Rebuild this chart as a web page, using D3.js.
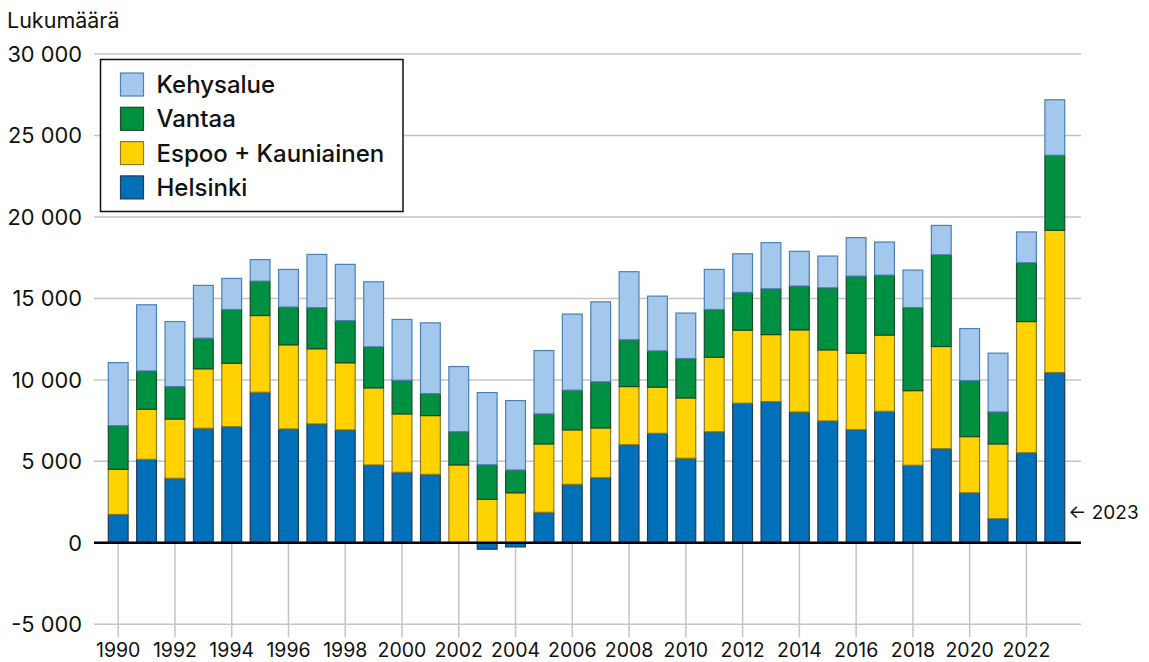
<!DOCTYPE html>
<html>
<head>
<meta charset="utf-8">
<script src="https://cdn.jsdelivr.net/npm/d3@7"></script>
<style>
  body { margin: 0; background: #fff; }
  text { font-family: Inter, Roboto, "Noto Sans", sans-serif; fill: #111; }
</style>
</head>
<body>
<svg id="chart" width="1149" height="662"></svg>
<script>
const YEARS = [1990, 1991, 1992, 1993, 1994, 1995, 1996, 1997, 1998, 1999,
               2000, 2001, 2002, 2003, 2004, 2005, 2006, 2007, 2008, 2009,
               2010, 2011, 2012, 2013, 2014, 2015, 2016, 2017, 2018, 2019,
               2020, 2021, 2022, 2023];
const HELSINKI = [1740, 5120, 3960, 7030, 7130, 9240, 6990, 7300, 6930, 4780,
                  4330, 4200, 0, -390, -250, 1870, 3590, 4000, 6020, 6720,
                  5190, 6820, 8570, 8670, 8030, 7480, 6950, 8070, 4760, 5780,
                  3070, 1480, 5530, 10450];
const ESPOO = [2770, 3080, 3640, 3650, 3890, 4710, 5160, 4610, 4120, 4730,
               3580, 3610, 4780, 2670, 3070, 4200, 3340, 3050, 3570, 2830,
               3700, 4570, 4480, 4110, 5040, 4360, 4690, 4680, 4580, 6270,
               3450, 4590, 8050, 8730];
const VANTAA = [2680, 2350, 1990, 1880, 3300, 2110, 2320, 2520, 2590, 2520,
                2070, 1350, 2040, 2120, 1400, 1840, 2440, 2830, 2870, 2230,
                2420, 2930, 2320, 2810, 2690, 3810, 4730, 3680, 5100, 5630,
                3440, 1960, 3610, 4610];
const KEHYS = [3870, 4060, 3990, 3240, 1910, 1320, 2310, 3270, 3450, 3990,
               3730, 4340, 4000, 4430, 4260, 3890, 4670, 4910, 4180, 3360,
               2790, 2460, 2370, 2830, 2130, 1950, 2360, 2030, 2300, 1800,
               3190, 3610, 1890, 3400];
const SERIES = ["Helsinki", "Espoo + Kauniainen", "Vantaa", "Kehysalue"];
const Y_TICKS = [-5000, 0, 5000, 10000, 15000, 20000, 25000, 30000];
const Y_TITLE = "Lukumäärä";

const FILL = {
  "Helsinki": "#0070b8",
  "Espoo + Kauniainen": "#ffd200",
  "Vantaa": "#009042",
  "Kehysalue": "#a3c8ec"
};
const STROKE = {
  "Helsinki": "#1e3a56",
  "Espoo + Kauniainen": "#8a7a28",
  "Vantaa": "#1a4a2c",
  "Kehysalue": "#4a80b4"
};

const GRID_LEFT = 94;
const GRID_RIGHT = 1081;

const rows = YEARS.map((year, i) => ({
  year,
  "Helsinki": HELSINKI[i],
  "Espoo + Kauniainen": ESPOO[i],
  "Vantaa": VANTAA[i],
  "Kehysalue": KEHYS[i]
}));

const stacked = d3.stack()
  .keys(SERIES)
  .offset(d3.stackOffsetDiverging)(rows);

const x = d3.scaleBand()
  .domain(YEARS)
  .range([104, 1069])
  .paddingInner(0.26)
  .paddingOuter(0.13);

const y = d3.scaleLinear()
  .domain([-5000, 30000])
  .range([624.3, 54]);

const fiLocale = d3.formatLocale({ decimal: ",", thousands: "\u00a0", grouping: [3], currency: ["", " €"], minus: "-" });
const fmt = fiLocale.format(",d");

const svg = d3.select("#chart");

// horizontal grid
svg.append("g")
  .selectAll("line")
  .data(Y_TICKS.filter(d => d !== 0))
  .join("line")
  .attr("x1", GRID_LEFT)
  .attr("x2", GRID_RIGHT)
  .attr("y1", d => y(d))
  .attr("y2", d => y(d))
  .attr("stroke", "#c4c4c4")
  .attr("stroke-width", 1.5);

// y labels
svg.append("g")
  .selectAll("text")
  .data(Y_TICKS)
  .join("text")
  .attr("x", 82)
  .attr("y", d => y(d))
  .attr("dy", "0.36em")
  .attr("text-anchor", "end")
  .style("font-size", "21.8px")
  .text(d => fmt(d));

svg.append("text")
  .attr("x", 7)
  .attr("y", 28)
  .style("font-size", "21.5px")
  .text(Y_TITLE);

// x ticks (every other year)
const evenYears = YEARS.filter(d => d % 2 === 0);
svg.append("g")
  .selectAll("line")
  .data(evenYears)
  .join("line")
  .attr("x1", d => x(d) + x.bandwidth() / 2)
  .attr("x2", d => x(d) + x.bandwidth() / 2)
  .attr("y1", y(0))
  .attr("y2", y(-5000) + 13)
  .attr("stroke", "#c4c4c4")
  .attr("stroke-width", 1.5);

svg.append("g")
  .selectAll("text")
  .data(evenYears)
  .join("text")
  .attr("x", d => x(d) + x.bandwidth() / 2)
  .attr("y", 657)
  .attr("text-anchor", "middle")
  .style("font-size", "19.5px")
  .text(d => d);

// bars
svg.append("g")
  .selectAll("g")
  .data(stacked)
  .join("g")
  .attr("fill", s => FILL[s.key])
  .attr("stroke", s => STROKE[s.key])
  .attr("stroke-width", 1.2)
  .selectAll("rect")
  .data(s => s.filter(d => d[1] !== d[0]))
  .join("rect")
  .attr("x", d => x(d.data.year) + 0.6)
  .attr("width", x.bandwidth() - 1.2)
  .attr("y", d => y(d[1]))
  .attr("height", d => y(d[0]) - y(d[1]));

// zero line
svg.append("line")
  .attr("x1", GRID_LEFT)
  .attr("x2", GRID_RIGHT)
  .attr("y1", y(0))
  .attr("y2", y(0))
  .attr("stroke", "#000")
  .attr("stroke-width", 2.5);

// annotation for the last bar
const lastYear = YEARS[YEARS.length - 1];
svg.append("text")
  .attr("x", x(lastYear) + x.bandwidth() + 3)
  .attr("y", y(1900))
  .attr("dy", "0.36em")
  .style("font-size", "19px")
  .text("\u2190 " + lastYear);

// legend
const legend = svg.append("g").attr("transform", "translate(100.5,59.5)");
legend.append("rect")
  .attr("width", 302.5)
  .attr("height", 152)
  .attr("fill", "#fff")
  .attr("stroke", "#111")
  .attr("stroke-width", 1.5);

const legendItems = SERIES.slice().reverse();
const item = legend.selectAll("g")
  .data(legendItems)
  .join("g")
  .attr("transform", (d, i) => `translate(20,${13.5 + i * 34.3})`);
item.append("rect")
  .attr("width", 23)
  .attr("height", 23)
  .attr("fill", d => FILL[d])
  .attr("stroke", d => STROKE[d])
  .attr("stroke-width", 1.2);
item.append("text")
  .attr("x", 36)
  .attr("y", 11.5)
  .attr("dy", "0.36em")
  .style("font-size", "24px")
  .style("font-weight", 550)
  .text(d => d);
</script>
</body>
</html>
